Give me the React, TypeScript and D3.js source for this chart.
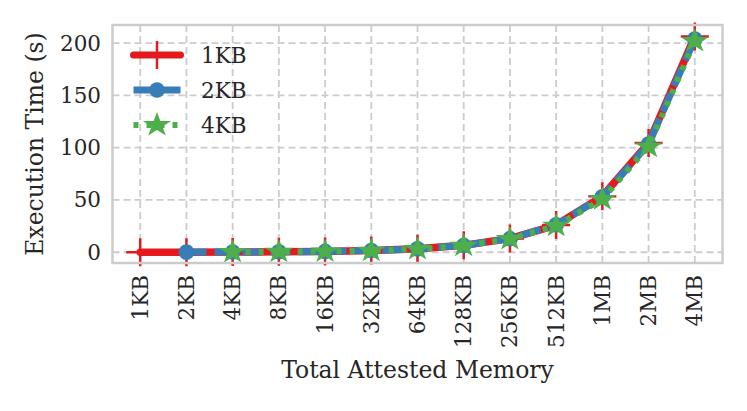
import React from "react";
import * as d3 from "d3";

const categories = ["1KB", "2KB", "4KB", "8KB", "16KB", "32KB", "64KB", "128KB", "256KB", "512KB", "1MB", "2MB", "4MB"];
const series1KB: (number | null)[] = [0.05, 0.1, 0.2, 0.4, 0.8, 1.6, 3.3, 6.6, 13.1, 26.0, 53.5, 104.5, 206.5];
const series2KB: (number | null)[] = [null, 0.1, 0.2, 0.4, 0.8, 1.6, 3.2, 6.5, 13.0, 26.2, 53.0, 103.5, 204.0];
const series4KB: (number | null)[] = [null, null, 0.2, 0.4, 0.8, 1.5, 3.1, 6.3, 12.6, 25.3, 50.8, 101.0, 202.0];
const seriesNames = ["1KB", "2KB", "4KB"];
const yTicks = [0, 50, 100, 150, 200];
const xLabel = "Total Attested Memory";
const yLabel = "Execution Time (s)";

const RED = "#e41a1c";
const BLUE = "#377eb8";
const GREEN = "#4daf4a";
const GRID = "#cccccc";
const TEXT = "#262626";
const FONT = "DejaVu Serif";

function starPath(cx: number, cy: number, R: number, sx: number) {
  const r = R * 0.381966;
  const pts: [number, number][] = [];
  for (let i = 0; i < 10; i++) {
    const a = -Math.PI / 2 + (i * Math.PI) / 5;
    const rad = i % 2 === 0 ? R : r;
    pts.push([cx + Math.cos(a) * rad * sx, cy + Math.sin(a) * rad]);
  }
  return "M" + pts.map((p) => p[0].toFixed(2) + "," + p[1].toFixed(2)).join("L") + "Z";
}

export default function App() {
  const W = 747, H = 411;
  const left = 112.5, right = 722.5, top = 25, bottom = 263;
  const x = d3.scaleLinear().domain([-0.6, categories.length - 1 + 0.6]).range([left, right]);
  const y = d3.scaleLinear().domain([-10.3, 217.4]).range([bottom, top]);

  const line = d3
    .line<number | null>()
    .defined((d) => d != null)
    .x((_, i) => x(i))
    .y((d) => y(d as number));

  const fs = 21.5;
  const lfs = 23.5;

  const plus = (cx: number, cy: number, k: string) => (
    <path key={k} d={`M${cx - 14},${cy}H${cx + 14}M${cx},${cy - 14}V${cy + 14}`} stroke={RED} strokeWidth={2.5} fill="none" />
  );
  const circle = (cx: number, cy: number, k: string) => <circle key={k} cx={cx} cy={cy} r={7.8} fill={BLUE} />;
  const star = (cx: number, cy: number, k: string) => (
    <path key={k} d={starPath(cx, cy, 13, 1.15)} fill={GREEN} />
  );

  const legendRows = [
    { name: seriesNames[0], color: RED, width: 7, dash: undefined as string | undefined, cap: "round", marker: plus },
    { name: seriesNames[1], color: BLUE, width: 7, dash: "20,8", cap: "butt", marker: circle },
    { name: seriesNames[2], color: GREEN, width: 6, dash: "5,8", cap: "butt", marker: star },
  ];

  return (
    <svg width={W} height={H} style={{ position: "absolute", left: 0, top: 0, background: "#fff" }} fontFamily={FONT}>
      <rect x={0} y={0} width={W} height={H} fill="#fff" />
      {/* grid */}
      {categories.map((_, i) => (
        <line key={"vg" + i} x1={x(i)} x2={x(i)} y1={top} y2={bottom} stroke={GRID} strokeWidth={1.8} strokeDasharray="7,4" />
      ))}
      {yTicks.map((t) => (
        <line key={"hg" + t} x1={left} x2={right} y1={y(t)} y2={y(t)} stroke={GRID} strokeWidth={1.8} strokeDasharray="7,4" />
      ))}
      {/* series */}
      <path d={line(series1KB) || ""} stroke={RED} strokeWidth={7.5} fill="none" strokeLinecap="round" strokeLinejoin="round" />
      {series1KB.map((v, i) => (v == null ? null : plus(x(i), y(v), "p" + i)))}
      <path d={line(series2KB) || ""} stroke={BLUE} strokeWidth={7} fill="none" strokeDasharray="20,8" strokeLinejoin="round" />
      {series2KB.map((v, i) => (v == null ? null : circle(x(i), y(v), "c" + i)))}
      <path d={line(series4KB) || ""} stroke={GREEN} strokeWidth={6} fill="none" strokeDasharray="5,8" strokeLinejoin="round" />
      {series4KB.map((v, i) => (v == null ? null : star(x(i), y(v), "s" + i)))}
      {/* frame */}
      <rect x={left} y={top} width={right - left} height={bottom - top} fill="none" stroke={GRID} strokeWidth={2.5} />
      {/* y ticks */}
      {yTicks.map((t) => (
        <text key={"yt" + t} x={101} y={y(t)} textAnchor="end" dominantBaseline="central" fontSize={fs} fill={TEXT}>
          {t}
        </text>
      ))}
      {/* x ticks */}
      {categories.map((c, i) => (
        <text
          key={"xt" + i}
          transform={`translate(${x(i)},${275}) rotate(-90)`}
          textAnchor="end"
          dominantBaseline="central"
          fontSize={fs}
          fill={TEXT}
        >
          {c}
        </text>
      ))}
      <text x={(left + right) / 2} y={378} textAnchor="middle" fontSize={lfs} fill={TEXT}>
        {xLabel}
      </text>
      <text transform={`translate(${43},${(top + bottom) / 2}) rotate(-90)`} textAnchor="middle" fontSize={lfs} fill={TEXT}>
        {yLabel}
      </text>
      {/* legend */}
      {legendRows.map((r, i) => {
        const ly = 55 + i * 35;
        return (
          <g key={"lg" + i}>
            <line x1={133.5} x2={180.5} y1={ly} y2={ly} stroke={r.color} strokeWidth={r.width} strokeDasharray={r.dash} strokeLinecap={r.cap as any} />
            {r.marker(157, ly, "lm" + i)}
            <text x={201} y={ly} dominantBaseline="central" fontSize={fs} fill={TEXT}>
              {r.name}
            </text>
          </g>
        );
      })}
    </svg>
  );
}
